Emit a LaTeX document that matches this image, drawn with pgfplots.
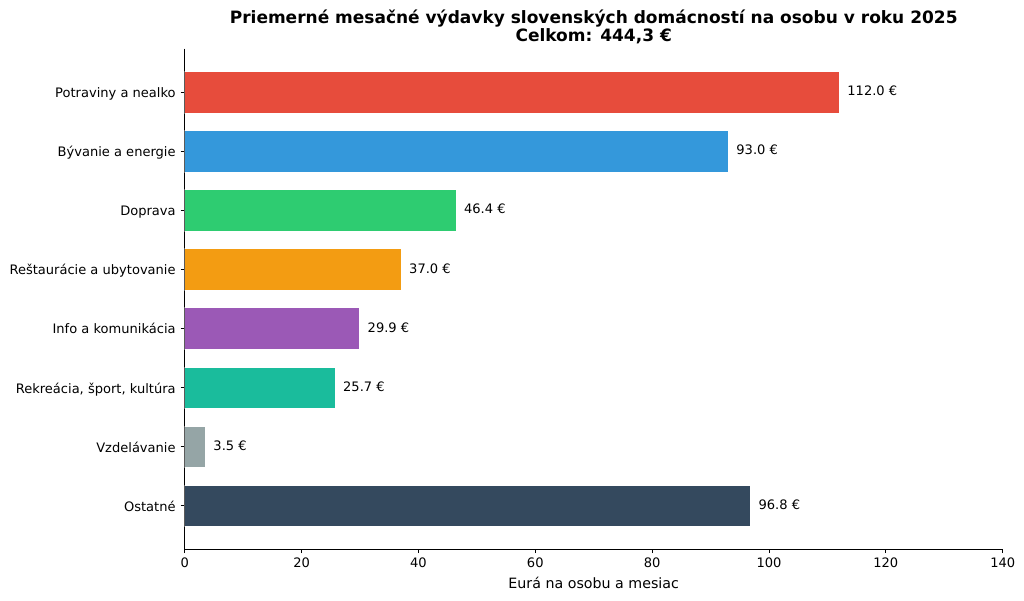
\documentclass[border=0pt]{standalone}
\usepackage{pgfplots}
\pgfplotsset{compat=1.18}
\usepackage{fontspec}
\setmainfont{DejaVu Sans}
\definecolor{c1}{HTML}{E74C3C}
\definecolor{c2}{HTML}{3498DB}
\definecolor{c3}{HTML}{2ECC71}
\definecolor{c4}{HTML}{F39C12}
\definecolor{c5}{HTML}{9B59B6}
\definecolor{c6}{HTML}{1ABC9C}
\definecolor{c7}{HTML}{95A5A6}
\definecolor{c8}{HTML}{34495E}
\begin{document}
\begin{tikzpicture}
\path[use as bounding box] (0,0) rectangle (737.28pt,432pt);
\begin{axis}[
  at={(132.98pt,36.72pt)}, anchor=south west,
  scale only axis, width=588.96pt, height=360.2pt,
  xmin=0, xmax=140, ymin=-0.735, ymax=7.735, y dir=reverse,
  xbar, bar width=0.7, bar shift=0pt,
  axis x line*=bottom, axis y line*=left,
  xtick={0,20,...,140}, ytick={0,...,7},
  yticklabels={Potraviny a nealko, Bývanie a energie, Doprava, Reštaurácie a ubytovanie, Info a komunikácia, {Rekreácia, šport, kultúra}, Vzdelávanie, Ostatné},
  tick align=outside, major tick length=3pt,
  tick style={black, line width=0.68pt},
  axis line style={black, line width=0.68pt},
  every tick/.style={black, line width=0.68pt},
  ticklabel style={font=\fontsize{9.39}{11}\selectfont},
  yticklabel style={text height=8.06pt, text depth=0pt},
  /pgf/number format/assume math mode=true,
  xlabel={Eurá na osobu a mesiac},
  xlabel style={font=\fontsize{10.24}{12}\selectfont},
  title={Priemerné mesačné výdavky slovenských domácností na osobu v roku 2025\\Celkom: 444,3 €},
  title style={font=\bfseries\fontsize{12.24}{12.9}\selectfont, align=center, at={(0.5,1)}, anchor=south, inner sep=0pt, text depth=0pt, yshift=-1.1pt},
  point meta=x,
  nodes near coords={\pgfmathprintnumber[fixed,fixed zerofill,precision=1]{\pgfplotspointmeta}~€},
  nodes near coords style={font=\fontsize{9.39}{11}\selectfont, anchor=west, inner sep=0pt, xshift=5.8pt, black, text height=7.33pt, text depth=2pt},
]
\addplot[fill=c1, draw=white, line width=0.4pt] coordinates {(112.0,0)};
\addplot[fill=c2, draw=white, line width=0.4pt] coordinates {(93.0,1)};
\addplot[fill=c3, draw=white, line width=0.4pt] coordinates {(46.4,2)};
\addplot[fill=c4, draw=white, line width=0.4pt] coordinates {(37.0,3)};
\addplot[fill=c5, draw=white, line width=0.4pt] coordinates {(29.9,4)};
\addplot[fill=c6, draw=white, line width=0.4pt] coordinates {(25.7,5)};
\addplot[fill=c7, draw=white, line width=0.4pt] coordinates {(3.5,6)};
\addplot[fill=c8, draw=white, line width=0.4pt] coordinates {(96.8,7)};
\end{axis}
\end{tikzpicture}
\end{document}
